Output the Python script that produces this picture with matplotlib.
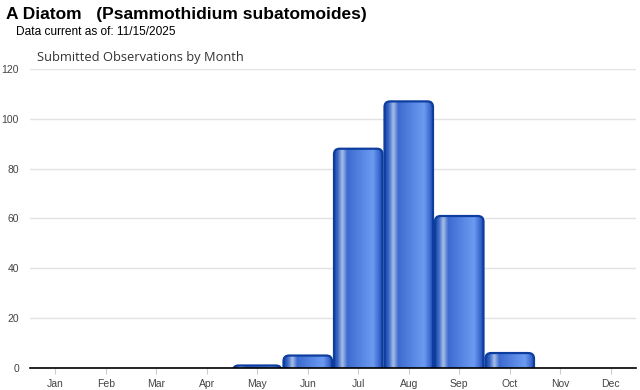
import numpy as np
import matplotlib
matplotlib.use('Agg')
from matplotlib import pyplot as plt
from matplotlib.patches import FancyBboxPatch
from matplotlib.colors import LinearSegmentedColormap

# data
months = ['Jan', 'Feb', 'Mar', 'Apr', 'May', 'Jun', 'Jul', 'Aug', 'Sep', 'Oct', 'Nov', 'Dec']
counts = [0, 0, 0, 0, 1, 5, 88, 107, 61, 6, 0, 0]
y_ticks = [0, 20, 40, 60, 80, 100, 120]

plt.rcParams['font.family'] = ['Liberation Sans', 'DejaVu Sans']

fig = plt.figure(figsize=(6.4, 3.9), dpi=100)
ax = fig.add_axes([30/640, 1 - 368/390, 606/640, 299/390])
ax.set_xlim(-0.5, 11.5)
ax.set_ylim(0, 120)

# cylinder-like horizontal gradient
cyl = LinearSegmentedColormap.from_list('cyl', [
    (0.0, '#1646a6'), (0.08, '#3d6bc9'), (0.17, '#a9bfe6'),
    (0.27, '#3c6bd0'), (0.6, '#5a8ae6'), (0.8, '#6c9bf0'),
    (0.92, '#3e6ad0'), (1.0, '#1646a6')])
grad = np.linspace(0, 1, 256).reshape(1, -1)

# y units per x unit in pixels, so corners come out round
asp = (606 / 12) / (299 / 120)

bw = 0.96
for i, v in enumerate(counts):
    if v <= 0:
        continue
    x0 = i - bw / 2
    r = 0.11
    # start the box below the baseline so only the top corners show
    y0 = -r * asp
    box = FancyBboxPatch((x0, y0), bw, v - y0, boxstyle='round,pad=0,rounding_size=%f' % r,
                         mutation_aspect=asp,
                         fc='none', ec='#0d3d9e', lw=1.6, zorder=4)
    ax.add_patch(box)
    im = ax.imshow(grad, cmap=cyl, aspect='auto', extent=(x0, x0 + bw, y0, v),
                   zorder=3, interpolation='bilinear')
    im.set_clip_path(box)

ax.set_xlim(-0.5, 11.5)
ax.set_ylim(0, 120)

ax.set_yticks(y_ticks)
ax.set_xticks(range(len(months)))
ax.set_xticklabels(months)
ax.grid(axis='y', color='#e3e3e3', lw=1, zorder=0)
ax.set_axisbelow(True)
for s in ['top', 'right', 'left']:
    ax.spines[s].set_visible(False)
ax.spines['bottom'].set_color('black')
ax.spines['bottom'].set_linewidth(1.2)
ax.spines['bottom'].set_zorder(5)
ax.tick_params(axis='y', length=0, labelsize=7.5, labelcolor='#444444', pad=8)
ax.tick_params(axis='x', length=4, color='#cccccc', direction='out', labelsize=7.5,
               labelcolor='#444444', pad=4)

fig.text(6/640, 1 - 15/390, 'A Diatom   (Psammothidium subatomoides)', fontsize=12.5,
         fontweight='bold', va='center', ha='left')
fig.text(16/640, 1 - 32/390, 'Data current as of: 11/15/2025', fontsize=8.6,
         va='center', ha='left')
fig.text(37/640, 1 - 58/390, 'Submitted Observations by Month', fontsize=9.3,
         color='#333333', va='center', ha='left', family=['Open Sans', 'DejaVu Sans'])

fig.savefig('out.png', dpi=100)
